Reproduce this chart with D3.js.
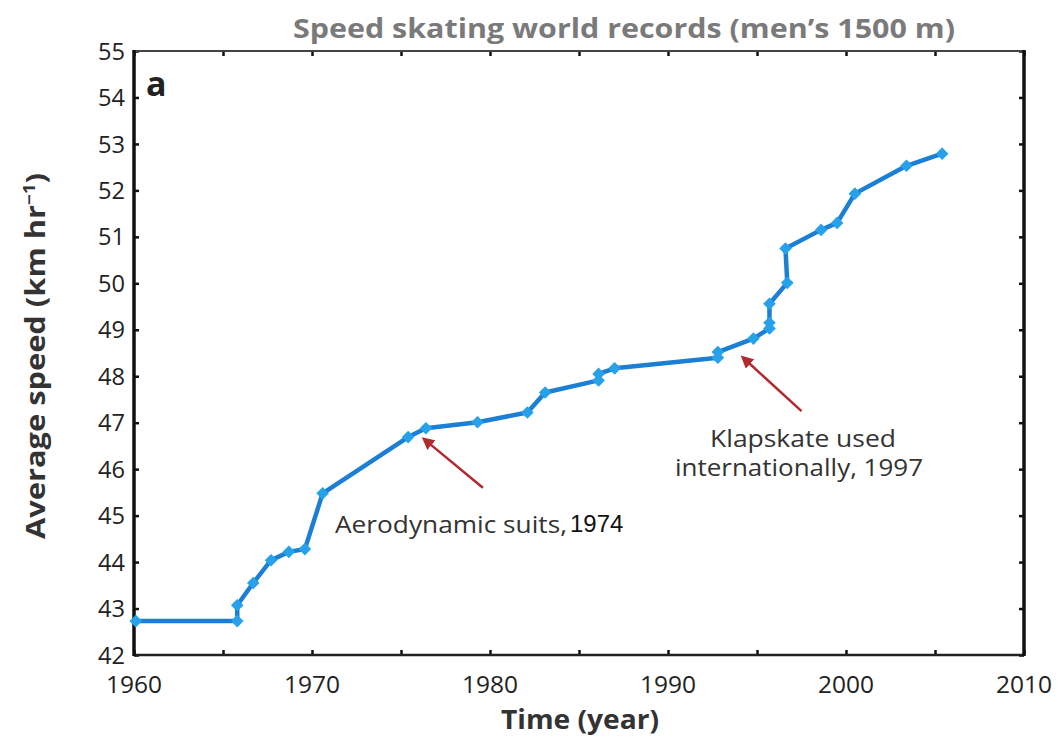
<!DOCTYPE html>
<html><head><meta charset="utf-8">
<script src="https://cdn.jsdelivr.net/npm/d3@7"></script>
<style>body{margin:0;background:#fff}svg{display:block}</style>
</head><body>
<script>
const years  = [1960.1,1965.8,1965.8,1966.7,1967.7,1968.7,1969.6,1970.6,1975.4,1976.4,1979.3,1982.1,1983.1,1986.1,1986.1,1987.0,1992.8,1992.8,1994.8,1995.7,1995.7,1995.7,1996.7,1996.6,1998.6,1999.5,2000.5,2003.4,2005.4];
const speeds = [42.73,42.73,43.07,43.55,44.04,44.22,44.28,45.48,46.69,46.88,47.01,47.22,47.65,47.91,48.05,48.17,48.40,48.52,48.81,49.03,49.15,49.56,50.01,50.75,51.15,51.30,51.93,52.53,52.79];
const yTicks = [42,43,44,45,46,47,48,49,50,51,52,53,54,55];
const xTicks = [1960,1965,1970,1975,1980,1985,1990,1995,2000,2005,2010];
const xLabels = [1960,1970,1980,1990,2000,2010];
const title = "Speed skating world records (men\u2019s 1500 m)";
const annotations = [
  {lines:["Aerodynamic suits,"], extra:"1974", year:1976.6, speed:46.55, tailYear:1979.6, tailSpeed:45.6},
  {lines:["Klapskate used","internationally, 1997"], year:1994.5, speed:48.3, tailYear:1997.5, tailSpeed:47.25}
];

const W=1059,H=737;
const m={l:134,r:1024,t:51,b:655};
const svg=d3.select("body").append("svg").attr("width",W).attr("height",H);
const x=d3.scaleLinear().domain([1960,2010]).range([m.l,m.r]);
const y=d3.scaleLinear().domain([42,55]).range([m.b,m.t]);
const font="'Open Sans','Lato',sans-serif";

// title
svg.append("text").attr("x",(m.l+m.r)/2+45).attr("y",38).attr("text-anchor","middle")
  .attr("font-family",font).attr("font-weight",700).attr("font-size",26).attr("fill","#7a7a7a")
  .attr("textLength",662).attr("lengthAdjust","spacingAndGlyphs").text(title);

// axes with inward ticks
const g=svg.append("g");
g.append("g").attr("transform",`translate(${m.l},0)`).call(d3.axisLeft(y).tickValues(yTicks).tickSize(-5).tickFormat(""))
  .call(a=>a.select(".domain").remove()).selectAll("line").attr("stroke","#111").attr("stroke-width",2.5);
g.append("g").attr("transform",`translate(${m.r},0)`).call(d3.axisRight(y).tickValues(yTicks).tickSize(-5).tickFormat(""))
  .call(a=>a.select(".domain").remove()).selectAll("line").attr("stroke","#111").attr("stroke-width",2.5);
g.append("g").attr("transform",`translate(0,${m.b})`).call(d3.axisBottom(x).tickValues(xTicks).tickSize(-5).tickFormat(""))
  .call(a=>a.select(".domain").remove()).selectAll("line").attr("stroke","#111").attr("stroke-width",2.5);
g.append("g").attr("transform",`translate(0,${m.t})`).call(d3.axisTop(x).tickValues(xTicks).tickSize(-5).tickFormat(""))
  .call(a=>a.select(".domain").remove()).selectAll("line").attr("stroke","#111").attr("stroke-width",2.5);

// frame
svg.append("line").attr("x1",m.l).attr("x2",m.r).attr("y1",m.t).attr("y2",m.t).attr("stroke","#444").attr("stroke-width",2);
svg.append("line").attr("x1",m.l).attr("x2",m.r).attr("y1",m.b).attr("y2",m.b).attr("stroke","#222").attr("stroke-width",2.5);
svg.append("line").attr("x1",m.l).attr("x2",m.l).attr("y1",m.t-1).attr("y2",m.b+1).attr("stroke","#111").attr("stroke-width",3.5);
svg.append("line").attr("x1",m.r).attr("x2",m.r).attr("y1",m.t-1).attr("y2",m.b+1).attr("stroke","#111").attr("stroke-width",3.5);

// tick labels
svg.append("g").selectAll("text").data(yTicks).join("text")
  .attr("x",m.l-9).attr("y",d=>y(d)).attr("dy","0.36em").attr("text-anchor","end")
  .attr("font-family",font).attr("font-size",24).attr("fill","#222")
  .attr("textLength",27).attr("lengthAdjust","spacingAndGlyphs").text(d=>d);
svg.append("g").selectAll("text").data(xLabels).join("text")
  .attr("x",d=>x(d)).attr("y",693).attr("text-anchor","middle")
  .attr("font-family",font).attr("font-size",24).attr("fill","#222")
  .attr("textLength",56).attr("lengthAdjust","spacingAndGlyphs").text(d=>d);

// axis titles
svg.append("text").attr("x",580).attr("y",729).attr("text-anchor","middle")
  .attr("font-family",font).attr("font-weight",700).attr("font-size",26).attr("fill","#333")
  .attr("textLength",158).attr("lengthAdjust","spacingAndGlyphs").text("Time (year)");
const yl=svg.append("text").attr("transform","translate(45,356) rotate(-90)").attr("text-anchor","middle")
  .attr("font-family",font).attr("font-weight",700).attr("font-size",26).attr("fill","#333")
  .attr("textLength",366).attr("lengthAdjust","spacingAndGlyphs");
yl.append("tspan").text("Average speed (km hr");
yl.append("tspan").attr("font-size",16).attr("dy",-10).text("\u22121");
yl.append("tspan").attr("dy",10).text(")");

// panel letter
svg.append("text").attr("x",146).attr("y",96).attr("font-family",font).attr("font-weight",700)
  .attr("font-size",34).attr("fill","#222").text("a");

// data line
const pts=years.map((d,i)=>[d,speeds[i]]);
svg.append("path").datum(pts)
  .attr("d",d3.line().x(d=>x(d[0])).y(d=>y(d[1])))
  .attr("fill","none").attr("stroke","#1b7fd4").attr("stroke-width",4.5).attr("stroke-linejoin","round");
svg.append("g").selectAll("path").data(pts).join("path")
  .attr("transform",d=>`translate(${x(d[0])},${y(d[1])}) rotate(45)`)
  .attr("d",d3.symbol(d3.symbolSquare,80)).attr("fill","#27a2ea");

// annotations
const defs=svg.append("defs");
defs.append("marker").attr("id","ah").attr("viewBox","0 0 10 10").attr("refX",2).attr("refY",5)
  .attr("markerWidth",5).attr("markerHeight",5).attr("orient","auto-start-reverse")
  .append("path").attr("d","M0,0L10,5L0,10z").attr("fill","#b02a2e");
annotations.forEach(a=>{
  svg.append("line").attr("x1",x(a.tailYear)).attr("y1",y(a.tailSpeed)).attr("x2",x(a.year)).attr("y2",y(a.speed))
    .attr("stroke","#b02a2e").attr("stroke-width",2.5).attr("marker-end","url(#ah)");
});
// annotation 1 text
svg.append("text").attr("x",335).attr("y",533).attr("font-family",font).attr("font-size",23).attr("fill","#333")
  .attr("textLength",232).attr("lengthAdjust","spacingAndGlyphs").text(annotations[0].lines[0]);
svg.append("text").attr("x",570).attr("y",532).attr("font-family","'Liberation Sans',Arial,sans-serif").attr("font-size",24).attr("fill","#111")
  .text(annotations[0].extra);
// annotation 2 text
svg.append("text").attr("x",803).attr("y",447).attr("text-anchor","middle").attr("font-family",font).attr("font-size",23).attr("fill","#333")
  .attr("textLength",186).attr("lengthAdjust","spacingAndGlyphs").text(annotations[1].lines[0]);
svg.append("text").attr("x",799).attr("y",476).attr("text-anchor","middle").attr("font-family",font).attr("font-size",23).attr("fill","#333")
  .attr("textLength",248).attr("lengthAdjust","spacingAndGlyphs").text(annotations[1].lines[1]);
</script>
</body></html>
